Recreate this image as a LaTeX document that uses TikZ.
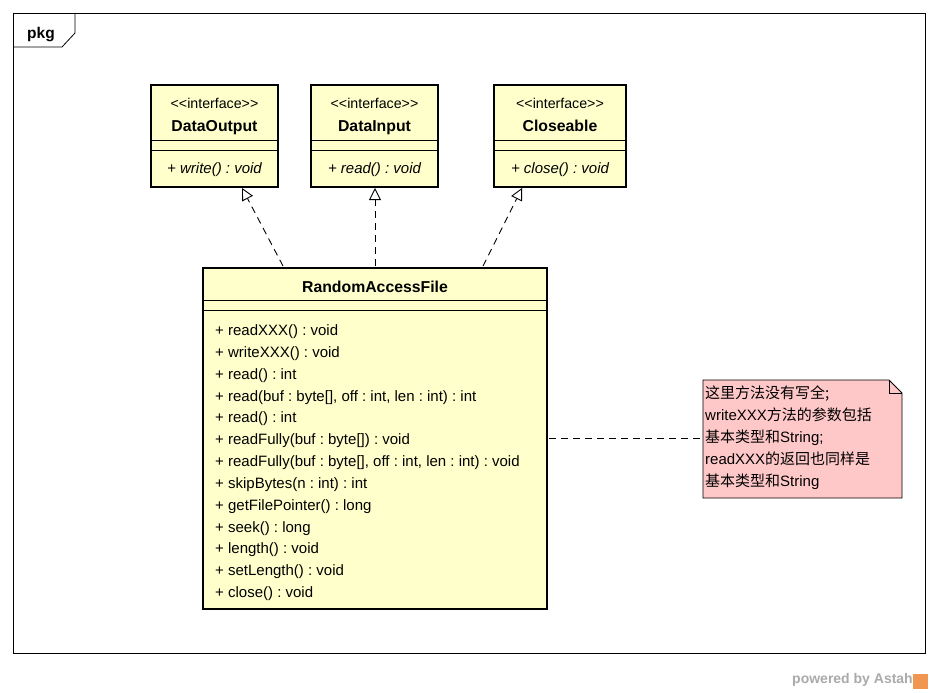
\documentclass[tikz,border=0pt]{standalone}
\usepackage{fontspec}
\setmainfont{Liberation Sans}
\newfontfamily\cjk{Noto Sans CJK SC}
\usetikzlibrary{arrows.meta,calc}
\frenchspacing
\definecolor{clsfill}{RGB}{255,255,204}
\definecolor{notefill}{RGB}{255,200,200}
\definecolor{brandgray}{RGB}{170,170,170}
\definecolor{brandorange}{RGB}{240,150,80}
\begin{document}
\begin{tikzpicture}[x=1pt,y=-1pt,
  cls/.style={draw, line width=2.6pt, fill=clsfill, anchor=north west, inner sep=0pt, outer sep=0pt},
  sepline/.style={line width=0.8pt},
  stereo/.style={font=\fontsize{14.2}{16}\selectfont, anchor=base},
  cname/.style={font=\bfseries\fontsize{15.8}{18}\selectfont, anchor=base},
  imeth/.style={font=\itshape\fontsize{15}{17}\selectfont, anchor=base},
  meths/.style={font=\fontsize{15}{21.83}\selectfont, align=left, anchor=north west, inner sep=0pt},
  real/.style={dash pattern=on 7pt off 5pt, line width=0.9pt, -{Triangle[length=12pt,width=12pt,fill=white]}},
  notelink/.style={dash pattern=on 7pt off 5pt, line width=0.9pt},
]
\useasboundingbox (0,0) rectangle (937,693);
\fill[white] (0,0) rectangle (937,693);

% package frame
\node[draw, line width=0.8pt, anchor=north west, minimum width=912pt, minimum height=640pt, inner sep=0pt] (frame) at (13,13) {};
\draw[line width=0.8pt] (13,47) -- (62,47) -- (75,33) -- (75,13);
\node[font=\bfseries\fontsize{15.5}{17}\selectfont, anchor=base] (pkg) at (41,38.5) {pkg};

% interfaces
\foreach \nm/\x/\w/\cn/\mt in {dout/151/127/DataOutput/write, din/311/127/DataInput/read, clo/494/132/Closeable/close}{
  \node[cls, minimum width=\w pt, minimum height=102pt] (\nm) at (\x,85) {};
  \draw[sepline] (\x,140) -- ++(\w,0);
  \draw[sepline] (\x,150) -- ++(\w,0);
  \node[stereo] (\nm-st) at ($(\nm.north)+(0,23.5)$) {<{}<interface>{}>};
  \node[cname] (\nm-nm) at ($(\nm.north)+(0,46)$) {\cn};
  \node[imeth] (\nm-m) at ($(\nm.north)+(0,88.5)$) {+ \mt() : void};
}

% RandomAccessFile
\node[cls, minimum width=344pt, minimum height=341pt] (raf) at (203,268) {};
\draw[sepline] (203,300) -- (547,300);
\draw[sepline] (203,310) -- (547,310);
\node[cname] (raf-nm) at (375,292) {RandomAccessFile};
\node[meths] (raf-m) at (215,324.5) {+ readXXX() : void\\
+ writeXXX() : void\\
+ read() : int\\
+ read(buf : byte[], off : int, len : int) : int\\
+ read() : int\\
+ readFully(buf : byte[]) : void\\
+ readFully(buf : byte[], off : int, len : int) : void\\
+ skipBytes(n : int) : int\\
+ getFilePointer() : long\\
+ seek() : long\\
+ length() : void\\
+ setLength() : void\\
+ close() : void};

% realizations
\coordinate (s1) at (283,266);
\coordinate (s2) at (375,266);
\coordinate (s3) at (483,266);
\coordinate (t1) at (242,188);
\coordinate (t2) at (375,188);
\coordinate (t3) at (522,188);
\draw[real] (s1) -- (t1);
\draw[real] (s2) -- (t2);
\draw[real] (s3) -- (t3);

% note
\draw[line width=0.8pt, fill=notefill] (703,380) -- (889,380) -- (902,393) -- (902,498) -- (703,498) -- cycle;
\draw[line width=0.8pt] (889,380) -- (889,393) -- (902,393);
\coordinate (notew) at (703,438);
\coordinate (rafe) at (549,438);
\node[font=\fontsize{15}{21.9}\selectfont, align=left, anchor=north west, inner sep=0pt] (note) at (705,386) {{\cjk 这里方法没有写全;}\\
write{}XXX{\cjk 方法的参数包括}\\
{\cjk 基本类型和}String;\\
readXXX{\cjk 的返回也同样是}\\
{\cjk 基本类型和}String};
\draw[notelink] (rafe) -- (notew);

% branding
\node[font=\bfseries\fontsize{14}{16}\selectfont, text=brandgray, anchor=east, inner sep=0pt] (brand) at (913,680) {powered by Astah};
\node[fill=brandorange, minimum width=15pt, minimum height=15pt, inner sep=0pt, anchor=west] (logo) at (913,681) {};
\end{tikzpicture}
\end{document}
